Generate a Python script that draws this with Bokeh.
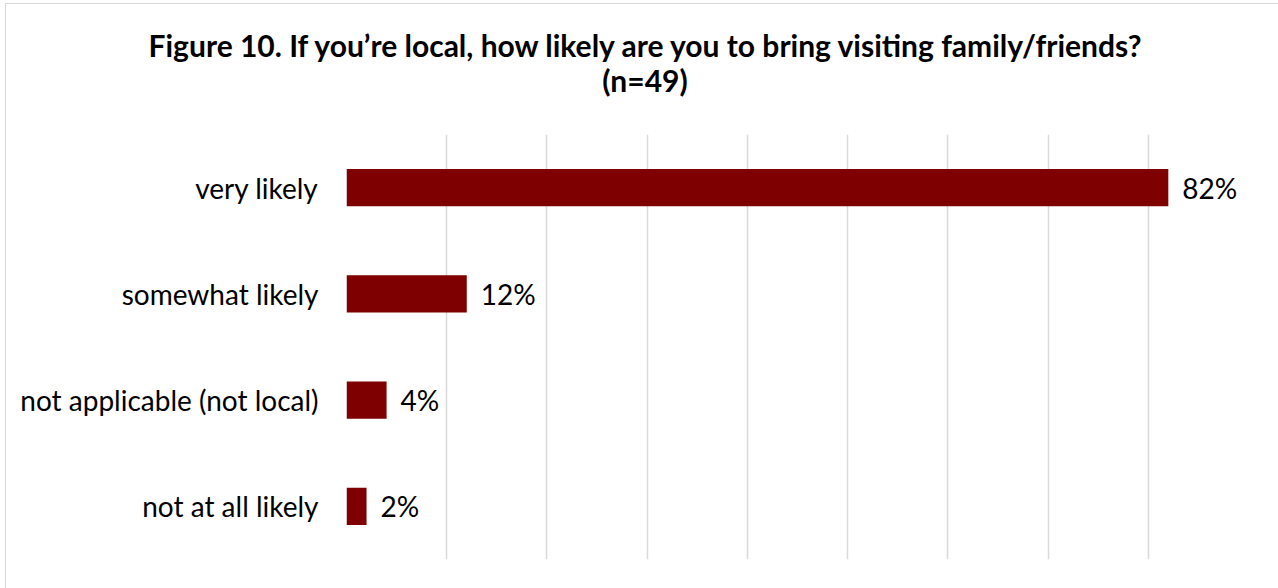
from bokeh.plotting import figure
from bokeh.models import ColumnDataSource, FactorRange, FixedTicker, LabelSet, Div
from bokeh.layouts import column
from bokeh.core.properties import value
from bokeh.embed import file_html
from bokeh.resources import INLINE

categories = ["not at all likely", "not applicable (not local)", "somewhat likely", "very likely"]
values = [0.02, 0.04, 0.12, 0.82]
labels = [f"{round(v*100)}%" for v in values]
grid_ticks = [0.0, 0.1, 0.2, 0.3, 0.4, 0.5, 0.6, 0.7, 0.8, 0.9]
title_line1 = "Figure 10. If you\u2019re local, how likely are you to bring visiting family/friends?"
title_line2 = "(n=49)"

FONT = "Lato"
BAR = "#7F0000"

src = ColumnDataSource(dict(cat=categories, val=values, lab=labels))

title = Div(text=f"{title_line1}<br>{title_line2}", width=1268, height=100,
            styles={"font-family": FONT, "font-weight": "bold", "font-size": "30px",
                    "text-align": "center", "line-height": "35px", "color": "#000000",
                    "padding-top": "19px"})

p = figure(width=1268, height=474, output_backend="svg", toolbar_location=None,
           y_range=FactorRange(factors=categories, range_padding=0),
           x_range=(0, 0.9),
           min_border_left=340, min_border_right=26, min_border_top=20, min_border_bottom=29)
p.outline_line_color = None
p.background_fill_color = "white"
p.border_fill_color = "white"

p.hbar(y="cat", right="val", left=0, height=0.35, source=src, fill_color=BAR, line_color=None)

p.xaxis.visible = False
p.xgrid.ticker = FixedTicker(ticks=grid_ticks)
p.xgrid.grid_line_color = "#d9d9d9"
p.xgrid.grid_line_width = 1.5
p.ygrid.grid_line_color = None

ax = p.yaxis[0]
ax.axis_line_color = None
ax.major_tick_line_color = None
ax.minor_tick_line_color = None
ax.major_label_standoff = 22
ax.major_label_text_font = FONT
ax.major_label_text_font_size = "28px"
ax.major_label_text_color = "#000000"

ls = LabelSet(x="val", y="cat", text="lab", source=src, x_offset=14, y_offset=0,
              text_baseline="middle", text_font=value(FONT), text_font_size=value("28px"),
              text_color="#000000")
p.add_layout(ls)

layout = column(title, p, spacing=0,
                styles={"margin-left": "5px", "margin-top": "3px", "border": "1px solid #d9d9d9",
                        "background-color": "white"})

open("out.html", "w").write(file_html(layout, INLINE))
